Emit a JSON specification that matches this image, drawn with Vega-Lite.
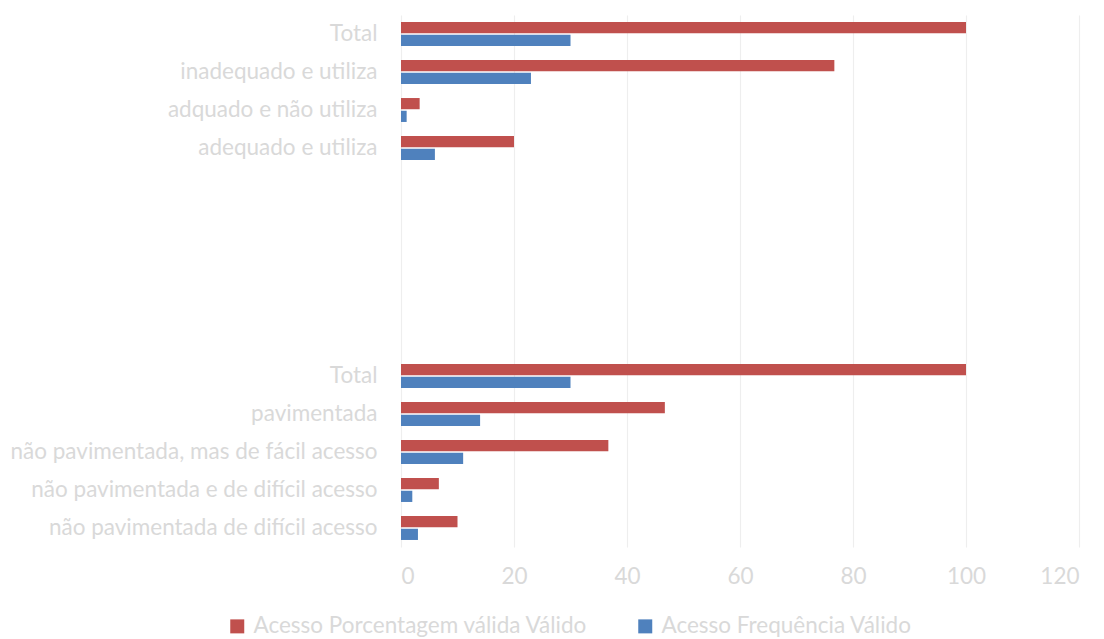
{
  "$schema": "https://vega.github.io/schema/vega-lite/v6.json",
  "width": 678,
  "height": 532,
  "autosize": {"type": "none"},
  "padding": {"left": 401, "top": 15, "right": 25, "bottom": 92},
  "background": "#ffffff",
  "config": {"view": {"stroke": null}, "font": "Lato"},
  "data": {
    "values": [
      {"categoria": "Total", "serie": "Acesso Porcentagem válida Válido", "valor": 100},
      {"categoria": "Total", "serie": "Acesso Frequência Válido", "valor": 30},
      {"categoria": "inadequado e utiliza", "serie": "Acesso Porcentagem válida Válido", "valor": 76.7},
      {"categoria": "inadequado e utiliza", "serie": "Acesso Frequência Válido", "valor": 23},
      {"categoria": "adquado e não utiliza", "serie": "Acesso Porcentagem válida Válido", "valor": 3.3},
      {"categoria": "adquado e não utiliza", "serie": "Acesso Frequência Válido", "valor": 1},
      {"categoria": "adequado e utiliza", "serie": "Acesso Porcentagem válida Válido", "valor": 20},
      {"categoria": "adequado e utiliza", "serie": "Acesso Frequência Válido", "valor": 6},
      {"categoria": "Total ", "serie": "Acesso Porcentagem válida Válido", "valor": 100},
      {"categoria": "Total ", "serie": "Acesso Frequência Válido", "valor": 30},
      {"categoria": "pavimentada", "serie": "Acesso Porcentagem válida Válido", "valor": 46.7},
      {"categoria": "pavimentada", "serie": "Acesso Frequência Válido", "valor": 14},
      {"categoria": "não pavimentada, mas de fácil acesso", "serie": "Acesso Porcentagem válida Válido", "valor": 36.7},
      {"categoria": "não pavimentada, mas de fácil acesso", "serie": "Acesso Frequência Válido", "valor": 11},
      {"categoria": "não pavimentada e de difícil acesso", "serie": "Acesso Porcentagem válida Válido", "valor": 6.7},
      {"categoria": "não pavimentada e de difícil acesso", "serie": "Acesso Frequência Válido", "valor": 2},
      {"categoria": "não pavimentada de difícil acesso", "serie": "Acesso Porcentagem válida Válido", "valor": 10},
      {"categoria": "não pavimentada de difícil acesso", "serie": "Acesso Frequência Válido", "valor": 3}
    ]
  },
  "mark": {"type": "bar"},
  "encoding": {
    "y": {
      "field": "categoria",
      "type": "nominal",
      "scale": {
        "domain": ["Total", "inadequado e utiliza", "adquado e não utiliza", "adequado e utiliza", " ", "  ", "   ", "    ", "     ", "Total ", "pavimentada", "não pavimentada, mas de fácil acesso", "não pavimentada e de difícil acesso", "não pavimentada de difícil acesso"],
        "paddingInner": 0.37,
        "paddingOuter": 0.185
      },
      "axis": {
        "title": null,
        "ticks": false,
        "domain": false,
        "labelExpr": "trim(datum.label)",
        "labelPadding": 24,
        "labelFontSize": 22.5,
        "labelColor": "#d9d9d9",
        "labelLimit": 600
      }
    },
    "yOffset": {
      "field": "serie",
      "type": "nominal",
      "scale": {"domain": ["Acesso Porcentagem válida Válido", "Acesso Frequência Válido"], "paddingInner": 0.12}
    },
    "x": {
      "field": "valor",
      "type": "quantitative",
      "scale": {"domain": [0, 120]},
      "axis": {
        "title": null,
        "values": [0, 20, 40, 60, 80, 100, 120],
        "grid": true,
        "gridColor": "#eeeeee",
        "gridWidth": 1.2,
        "domain": false,
        "ticks": false,
        "labelPadding": 18,
        "labelFontSize": 22.5,
        "labelColor": "#d9d9d9"
      }
    },
    "color": {
      "field": "serie",
      "type": "nominal",
      "scale": {"domain": ["Acesso Porcentagem válida Válido", "Acesso Frequência Válido"], "range": ["#C0504D", "#4F81BD"]},
      "legend": {
        "title": null,
        "orient": "none",
        "direction": "horizontal",
        "legendX": -175,
        "legendY": 600,
        "padding": 0,
        "symbolType": "square",
        "symbolSize": 196,
        "symbolStrokeWidth": 0,
        "symbolOpacity": 1,
        "labelFontSize": 22.5,
        "labelColor": "#d9d9d9",
        "labelOffset": 5,
        "columnPadding": 46,
        "labelLimit": 600
      }
    }
  }
}
